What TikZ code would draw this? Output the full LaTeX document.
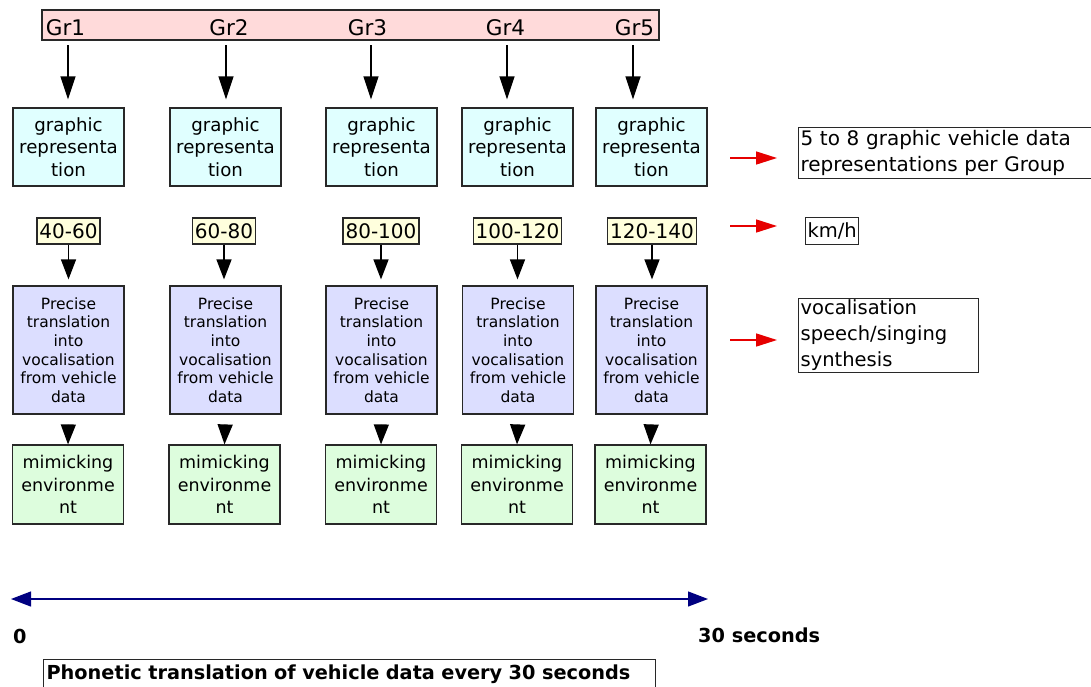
\documentclass[tikz,border=0pt]{standalone}
\usepackage{fontspec}
\setmainfont{DejaVu Sans}
\usetikzlibrary{arrows.meta}

\definecolor{barpink}{RGB}{255,218,218}
\definecolor{graphcyan}{RGB}{224,255,255}
\definecolor{procviolet}{RGB}{220,222,255}
\definecolor{envgreen}{RGB}{221,253,221}
\definecolor{speedyellow}{RGB}{255,255,221}
\definecolor{edge}{RGB}{40,40,40}
\definecolor{timeblue}{RGB}{0,0,128}
\definecolor{notered}{RGB}{230,0,0}

\begin{document}
\begin{tikzpicture}[x=1pt,y=-1pt,
  frame/.style={draw=edge,line width=1.2pt,inner sep=0pt},
  colbox/.style={frame,align=center,minimum width=111pt},
  graphbox/.style={colbox,fill=graphcyan,minimum height=78pt,font=\fontsize{18.2}{22.5}\selectfont},
  procbox/.style={colbox,fill=procviolet,minimum height=128pt,font=\fontsize{15.5}{18.6}\selectfont},
  envbox/.style={colbox,fill=envgreen,minimum height=79pt,font=\fontsize{17.5}{22.5}\selectfont},
  speedbox/.style={frame,fill=speedyellow,inner xsep=2.5pt,minimum height=26pt,font=\fontsize{20}{24}\selectfont},
  notebox/.style={frame,align=left,inner xsep=2pt,font=\fontsize{19.5}{26}\selectfont},
  grlabel/.style={anchor=base,inner sep=0pt,font=\fontsize{21.5}{26}\selectfont},
  boldlabel/.style={anchor=base west,inner sep=0pt,font=\fontsize{19.3}{23}\selectfont\bfseries},
  downarrow/.style={draw=black,line width=1.4pt,-{Triangle[length=23pt,width=15pt]}},
  shortarrow/.style={draw=black,line width=1.4pt,-{Triangle[length=20pt,width=15pt]}},
  notearrow/.style={draw=notered,line width=1.5pt,-{Triangle[length=21pt,width=13pt]}},
  timearrow/.style={draw=timeblue,line width=1.2pt,{Triangle[length=20pt,width=15pt]}-{Triangle[length=20pt,width=15pt]}},
]
\useasboundingbox (0,0) rectangle (1091,686);

% group bar
\node[frame,fill=barpink,minimum width=617pt,minimum height=30pt] (bar) at (350.5,25) {};
\node[grlabel] (gr1) at (65.5,35) {Gr1};
\node[grlabel] (gr2) at (229,35) {Gr2};
\node[grlabel] (gr3) at (367.5,35) {Gr3};
\node[grlabel] (gr4) at (505.5,35) {Gr4};
\node[grlabel] (gr5) at (634.5,35) {Gr5};
\coordinate (p1) at (68,40);
\coordinate (p2) at (226,40);
\coordinate (p3) at (371,40);
\coordinate (p4) at (507,40);
\coordinate (p5) at (633,40);

% graphic representation row
\node[graphbox] (graph1) at (68.5,147) {graphic\\representa\\tion};
\node[graphbox] (graph2) at (225.5,147) {graphic\\representa\\tion};
\node[graphbox] (graph3) at (381.5,147) {graphic\\representa\\tion};
\node[graphbox] (graph4) at (517.5,147) {graphic\\representa\\tion};
\node[graphbox] (graph5) at (651.5,147) {graphic\\representa\\tion};

% speed ranges
\node[speedbox] (speed1) at (68.5,231) {40-60};
\node[speedbox] (speed2) at (224,231) {60-80};
\node[speedbox] (speed3) at (381,231) {80-100};
\node[speedbox] (speed4) at (517.5,231) {100-120};
\node[speedbox] (speed5) at (652,231) {120-140};

% translation row
\node[procbox] (proc1) at (68.5,350) {Precise\\translation\\into\\vocalisation\\from vehicle\\data};
\node[procbox] (proc2) at (225.5,350) {Precise\\translation\\into\\vocalisation\\from vehicle\\data};
\node[procbox] (proc3) at (381.5,350) {Precise\\translation\\into\\vocalisation\\from vehicle\\data};
\node[procbox] (proc4) at (518,350) {Precise\\translation\\into\\vocalisation\\from vehicle\\data};
\node[procbox] (proc5) at (651.5,350) {Precise\\translation\\into\\vocalisation\\from vehicle\\data};

% environment row
\node[envbox] (env1) at (68,484.5) {mimicking\\environme\\nt};
\node[envbox] (env2) at (224.5,484.5) {mimicking\\environme\\nt};
\node[envbox] (env3) at (381,484.5) {mimicking\\environme\\nt};
\node[envbox] (env4) at (517,484.5) {mimicking\\environme\\nt};
\node[envbox] (env5) at (650.5,484.5) {mimicking\\environme\\nt};

% vertical connectors
\foreach \i in {1,...,5}{
  \draw[downarrow,shorten <=5pt,shorten >=8pt] (p\i) -- (p\i |- graph\i.north);
  \draw[shortarrow,shorten >=6pt] (speed\i.south) -- (speed\i.south |- proc\i.north);
  \draw[shortarrow,shorten <=11pt] (proc\i.south) -- (env\i.north);
}

% notes on the right
\node[notebox,font=\fontsize{20}{26}\selectfont,text width=290pt,minimum height=51pt,anchor=north west] (groups) at (798,127)
  {5 to 8 graphic vehicle data\\representations per Group};
\node[notebox,minimum height=27pt,anchor=north west] (unit) at (805,217) {km/h};
\node[notebox,text width=176pt,minimum height=74pt,anchor=north west] (voice) at (798,298)
  {vocalisation\\speech/singing\\synthesis};

\coordinate (r1a) at (730,158); \coordinate (r1b) at (777,158);
\coordinate (r2a) at (730,226); \coordinate (r2b) at (777,226);
\coordinate (r3a) at (730,340); \coordinate (r3b) at (777,340);
\draw[notearrow] (r1a) -- (r1b);
\draw[notearrow] (r2a) -- (r2b);
\draw[notearrow] (r3a) -- (r3b);

% time line
\coordinate (t0) at (11,599);
\coordinate (t1) at (708,599);
\draw[timearrow] (t0) -- (t1);
\node[boldlabel] (zero) at (13,643) {0};
\node[boldlabel] (thirty) at (698,642) {30 seconds};
\node[frame,anchor=north west,text width=606pt,align=left,inner xsep=3pt,inner ysep=5.3pt,
      font=\fontsize{19.3}{23}\selectfont\bfseries] (summary) at (43,659)
  {Phonetic translation of vehicle data every 30 seconds};
\end{tikzpicture}
\end{document}
